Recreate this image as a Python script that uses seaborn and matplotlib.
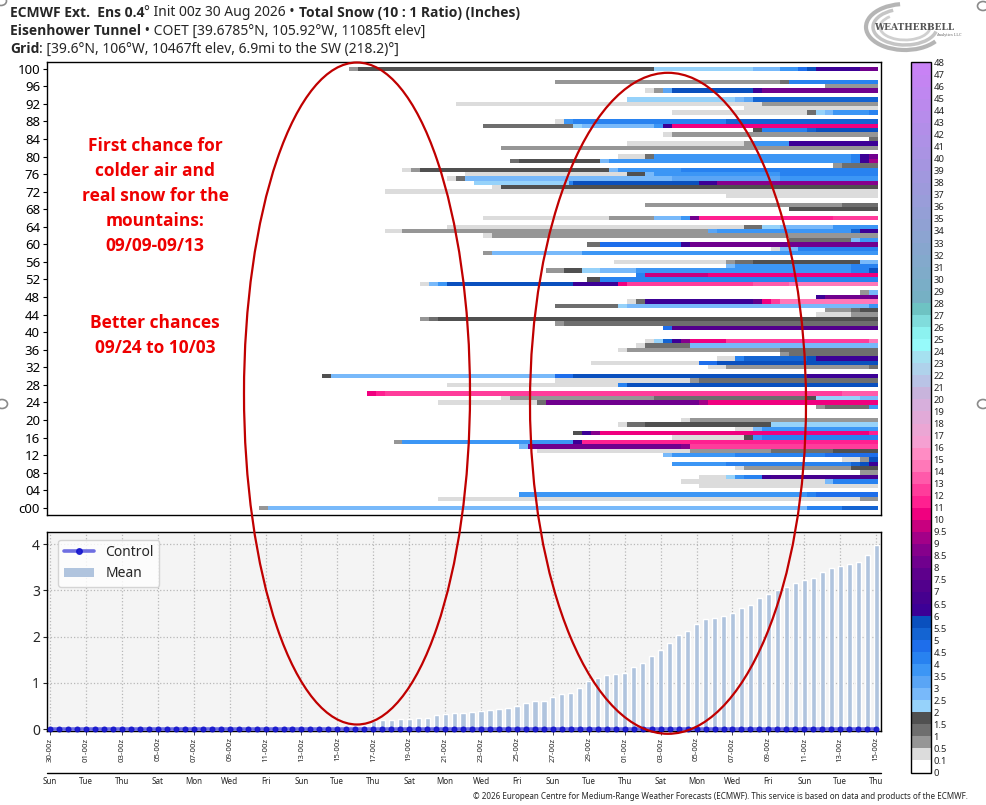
import numpy as np
import pandas as pd
import matplotlib
matplotlib.use("Agg")
import matplotlib.pyplot as plt
import seaborn as sns
from matplotlib import font_manager as fm
from matplotlib.colors import ListedColormap, BoundaryNorm, to_rgb
from matplotlib.patches import Ellipse, Arc, Circle, Patch
from matplotlib.lines import Line2D
import matplotlib.transforms as mtransforms

W, H = 986, 805

# ---------------- data ----------------
# colour-scale boundaries (inches) and their labels
snow_levels = [0, 0.1, 0.5, 1, 1.5, 2, 2.5, 3, 3.5, 4, 4.5, 5, 5.5, 6, 6.5, 7, 7.5, 8, 8.5, 9, 9.5, 10,
               11, 12, 13, 14, 15, 16, 17, 18, 19, 20, 21, 22, 23, 24, 25, 26, 27, 28, 29, 30,
               31, 32, 33, 34, 35, 36, 37, 38, 39, 40, 41, 42, 43, 44, 45, 46, 47, 48]
level_labels = ["0", "0.1", "0.5", "1", "1.5", "2", "2.5", "3", "3.5", "4", "4.5", "5", "5.5", "6",
                "6.5", "7", "7.5", "8", "8.5", "9", "9.5", "10", "11", "12", "13", "14", "15", "16",
                "17", "18", "19", "20", "21", "22", "23", "24", "25", "26", "27", "28", "29", "30",
                "31", "32", "33", "34", "35", "36", "37", "38", "39", "40", "41", "42", "43", "44",
                "45", "46", "47", "48"]

# x axis (days since 30 Aug 00z)
date_labels = ["30-00z", "01-00z", "03-00z", "05-00z", "07-00z", "09-00z", "11-00z", "13-00z",
               "15-00z", "17-00z", "19-00z", "21-00z", "23-00z", "25-00z", "27-00z", "29-00z",
               "01-00z", "03-00z", "05-00z", "07-00z", "09-00z", "11-00z", "13-00z", "15-00z"]
date_days = [0, 2, 4, 6, 8, 10, 12, 14, 16, 18, 20, 22, 24, 26, 28, 30, 32, 34, 36, 38, 40, 42, 44, 46]
day_names = ["Sun", "Tue", "Thu", "Sat", "Mon", "Wed", "Fri", "Sun", "Tue", "Thu", "Sat", "Mon",
             "Wed", "Fri", "Sun", "Tue", "Thu", "Sat", "Mon", "Wed", "Fri", "Sun", "Tue", "Thu"]

member_ticks = [100, 96, 92, 88, 84, 80, 76, 72, 68, 64, 60, 56, 52, 48, 44, 40, 36, 32, 28, 24,
                20, 16, 12, 8, 4, 0]
member_tick_labels = ["100", "96", "92", "88", "84", "80", "76", "72", "68", "64", "60", "56", "52",
                      "48", "44", "40", "36", "32", "28", "24", "20", "16", "12", "08", "04", "c00"]

# ensemble mean total snow, every 12 h from 30 Aug 00z (inches)
mean_snow = [0, 0, 0, 0, 0, 0, 0, 0, 0, 0, 0, 0, 0, 0, 0, 0,
             0, 0, 0, 0, 0, 0, 0, 0, 0.03, 0.03, 0.03, 0.03, 0.03, 0.03, 0.03, 0.03,
             0.05, 0.04, 0.04, 0.07, 0.18, 0.19, 0.19, 0.21, 0.22, 0.23, 0.25, 0.30, 0.33,
             0.35, 0.35, 0.37, 0.39, 0.41, 0.43, 0.45, 0.49, 0.57, 0.60, 0.60, 0.69,
             0.75, 0.78, 0.90, 1.03, 1.10, 1.18, 1.20, 1.22, 1.35, 1.44, 1.59, 1.71, 1.87,
             2.03, 2.12, 2.27, 2.38, 2.41, 2.44, 2.51, 2.61, 2.68, 2.83, 2.93, 3.00, 3.07,
             3.17, 3.22, 3.26, 3.39, 3.48, 3.53, 3.57, 3.61, 3.77, 3.98]
control_snow = [0.0] * 93
step_days = [0.5 * i for i in range(93)]

# plume: per member, (day when accumulation changes, accumulated inches)
m100 = [(16.8, 0.75), (17.3, 1.75), (33.74, 2.25), (39.25, 2.75), (40.8, 3.75), (41.82, 4.75), (42.32, 5.75), (42.83, 6.25), (45.28, 8.25)]
m97 = [(28.3, 0.75), (40.8, 1.25), (41.3, 4.25)]
m96 = [(43.25, 0.75)]
m95 = [(33.26, 0.3), (33.74, 0.75), (34.24, 3.25), (34.76, 5.75), (39.25, 6.25), (39.81, 8.25)]
m93 = [(32.29, 2.25), (38.23, 2.75), (38.79, 3.25), (39.25, 5.25)]
m92 = [(22.77, 0.3), (39.81, 0.75)]
m91 = [(38.79, 0.3)]
m90 = [(34.76, 0.3), (42.32, 1.25), (42.83, 2.25), (43.25, 2.75), (43.8, 3.75), (45.75, 4.25)]
m88 = [(28.3, 0.3), (28.77, 3.75), (29.29, 4.25), (37.77, 5.25)]
m87 = [(24.28, 1.25), (29.29, 2.25), (29.79, 2.75), (33.74, 3.75), (34.24, 6.25), (34.76, 10.5)]
m86 = [(39.25, 1.75), (39.81, 4.25), (42.32, 5.25), (42.83, 5.75)]
m85 = [(34.24, 0.3), (34.76, 0.75)]
m84 = [(45.75, 1.25)]
m83 = [(32.29, 0.3), (38.79, 0.75), (39.25, 3.75), (41.3, 6.25)]
m82 = [(25.28, 0.75)]
m80 = [(31.83, 0.3), (33.26, 1.25), (33.74, 3.75), (44.73, 4.25), (45.28, 6.25), (45.75, 8.25)]
m79 = [(25.78, 1.25), (26.28, 1.75), (30.77, 2.75), (31.27, 3.75), (44.73, 4.25), (45.28, 6.25), (45.75, 9.25)]
m78 = [(43.8, 0.75), (44.27, 1.25)]
m77 = [(19.82, 0.3), (20.32, 0.75), (20.82, 1.75), (31.27, 2.75), (31.83, 3.75), (35.26, 4.25)]
m76 = [(23.27, 0.3), (32.29, 1.75), (33.26, 2.75), (33.74, 3.75), (40.8, 4.25)]
m75 = [(22.33, 0.3), (22.77, 1.25), (23.27, 2.75), (34.76, 3.25), (40.8, 3.75)]
m74 = [(23.77, 2.25), (28.95, 4.25), (29.29, 5.75), (36.28, 6.25), (37.27, 8.75)]
m73 = [(24.78, 0.3), (25.28, 1.75)]
m72 = [(18.82, 0.3)]
m71 = [(37.77, 0.3)]
m69 = [(33.26, 0.75), (44.27, 1.25)]
m68 = [(41.3, 1.75)]
m66 = [(24.28, 0.3), (31.27, 0.75), (33.74, 2.75), (35.26, 3.75), (35.76, 8.25), (36.28, 11.5), (43.8, 12.5)]
m64 = [(22.33, 0.3), (38.79, 1.25), (39.81, 2.25), (40.8, 2.75), (43.8, 3.75)]
m63 = [(18.82, 0.3), (19.82, 0.75), (36.75, 3.25), (37.27, 3.75), (44.73, 5.25), (45.28, 6.25)]
m62 = [(24.28, 0.3), (24.78, 0.75)]
m61 = [(41.3, 1.25), (44.73, 2.75), (45.28, 3.75)]
m60 = [(30.0, 1.25), (30.77, 4.75), (35.26, 6.25), (35.76, 8.25)]
m59 = [(40.31, 0.3), (40.8, 2.75), (41.82, 4.25)]
m58 = [(24.28, 0.75), (24.78, 2.75), (29.79, 3.75)]
m56 = [(31.5, 0.3), (37.77, 0.75), (38.23, 1.25), (39.25, 1.75), (45.28, 2.75)]
m55 = [(37.77, 2.75), (38.23, 3.75), (44.73, 4.25)]
m54 = [(27.78, 0.75), (28.77, 1.75), (29.79, 2.25), (30.77, 2.75), (32.76, 3.75), (44.73, 4.25), (45.75, 5.75)]
m53 = [(32.76, 4.25), (33.26, 9.75), (36.75, 10.5)]
m52 = [(30.0, 1.75), (30.77, 4.25)]
m51 = [(20.82, 0.3), (21.33, 2.75), (21.83, 3.75), (22.33, 5.75), (29.29, 6.25), (31.83, 10.5), (32.29, 12.5), (39.25, 13.5), (41.3, 14.5)]
m49 = [(45.28, 0.75), (45.75, 2.75)]
m48 = [(42.83, 6.25), (43.25, 8.25)]
m47 = [(32.29, 0.3), (32.76, 1.25), (33.26, 6.25), (39.25, 7.75), (39.81, 10.5), (40.31, 12.5), (40.8, 14.5)]
m46 = [(28.3, 1.25), (31.83, 2.25), (32.29, 2.75), (45.75, 3.75)]
m45 = [(43.25, 0.75), (44.73, 1.25), (45.28, 1.75)]
m44 = [(42.83, 0.3), (44.73, 0.75)]
m43 = [(20.82, 0.75), (21.33, 1.25), (21.83, 1.75)]
m42 = [(28.3, 0.75), (28.77, 1.25)]
m41 = [(34.24, 4.75), (34.76, 7.25)]
m38 = [(33.26, 0.3), (33.74, 2.25), (34.24, 5.25), (34.76, 6.25), (35.26, 8.75), (35.76, 10.5), (37.77, 12.5), (45.75, 14.5)]
m37 = [(32.76, 0.3), (33.26, 1.25), (35.76, 2.75)]
m36 = [(31.83, 0.3), (32.29, 0.75), (40.8, 1.25)]
m35 = [(40.8, 0.75), (41.3, 1.25)]
m34 = [(37.27, 0.3), (38.23, 4.25), (38.79, 5.25), (42.32, 5.75), (42.83, 6.25)]
m33 = [(30.25, 0.3), (36.28, 4.75), (37.27, 5.75)]
m32 = [(36.75, 0.3), (37.77, 0.75), (45.75, 1.25)]
m30 = [(15.31, 1.75), (15.81, 2.75), (28.3, 4.75), (29.29, 5.75), (42.32, 6.25)]
m29 = [(28.3, 0.3), (35.76, 0.75), (36.28, 1.25)]
m28 = [(22.33, 0.3), (31.83, 4.25), (32.29, 5.75)]
m26 = [(17.82, 10.5), (18.32, 11.5), (18.82, 12.5), (44.27, 13.5)]
m25 = [(25.28, 0.3), (25.78, 0.75), (33.74, 1.25), (42.32, 1.75), (42.83, 2.25), (45.28, 2.75)]
m24 = [(21.83, 0.3), (27.28, 1.25), (27.78, 8.25), (36.28, 9.25), (36.75, 10.5)]
m23 = [(42.83, 0.75), (43.25, 1.25), (45.75, 3.75)]
m20 = [(35.26, 0.3), (35.76, 0.75)]
m19 = [(31.83, 0.3), (32.29, 1.25), (33.26, 1.75), (40.31, 2.25)]
m18 = [(38.23, 0.3), (39.25, 2.75), (39.81, 3.75)]
m17 = [(29.29, 1.75), (29.79, 6.25), (30.25, 8.75), (30.77, 10.5), (45.75, 11.5)]
m16 = [(34.76, 0.3), (38.79, 1.75), (39.25, 3.75), (39.81, 4.25)]
m15 = [(19.32, 0.75), (19.82, 3.75), (29.29, 6.25), (29.79, 11.5)]
m14 = [(26.28, 2.75), (26.78, 8.25), (35.26, 8.75), (35.76, 12.5)]
m13 = [(27.28, 0.3), (35.76, 0.75), (40.31, 1.25), (43.8, 1.75)]
m12 = [(34.24, 2.75), (34.76, 3.75), (38.23, 4.25), (43.25, 4.75)]
m11 = [(44.27, 0.3), (45.28, 0.75), (45.75, 5.75)]
m10 = [(34.76, 3.75), (37.77, 4.25), (44.73, 5.25), (45.28, 5.75), (45.75, 6.25)]
m9 = [(38.23, 0.3), (38.79, 0.75), (44.73, 1.75)]
m8 = [(45.28, 0.75)]
m7 = [(36.28, 0.3), (37.77, 2.25), (38.23, 3.75), (38.79, 4.25), (39.81, 6.25), (40.31, 6.75)]
m6 = [(35.26, 0.3), (43.25, 2.75), (43.8, 4.25)]
m5 = [(36.28, 0.3)]
m3 = [(26.28, 3.75), (42.32, 4.25), (42.83, 4.75)]
m2 = [(21.83, 0.3), (45.28, 0.75)]
m0 = [(11.82, 0.75), (12.36, 2.75), (42.32, 4.25), (44.27, 5.25)]

members = {100: m100, 97: m97, 96: m96, 95: m95, 93: m93, 92: m92, 91: m91, 90: m90, 88: m88,
           87: m87, 86: m86, 85: m85, 84: m84, 83: m83, 82: m82, 80: m80, 79: m79, 78: m78,
           77: m77, 76: m76, 75: m75, 74: m74, 73: m73, 72: m72, 71: m71, 69: m69, 68: m68,
           66: m66, 64: m64, 63: m63, 62: m62, 61: m61, 60: m60, 59: m59, 58: m58, 56: m56,
           55: m55, 54: m54, 53: m53, 52: m52, 51: m51, 49: m49, 48: m48, 47: m47, 46: m46,
           45: m45, 44: m44, 43: m43, 42: m42, 41: m41, 38: m38, 37: m37, 36: m36, 35: m35,
           34: m34, 33: m33, 32: m32, 30: m30, 29: m29, 28: m28, 26: m26, 25: m25, 24: m24,
           23: m23, 20: m20, 19: m19, 18: m18, 17: m17, 16: m16, 15: m15, 14: m14, 13: m13,
           12: m12, 11: m11, 10: m10, 9: m9, 8: m8, 7: m7, 6: m6, 5: m5, 3: m3, 2: m2, 0: m0}

# ---------------- colours ----------------
base_colors = ["#ffffff", "#dcdcdc", "#969696", "#6e6e6e", "#505050",
               "#96d2fa", "#78b9fa", "#5aa5f5", "#3c96f5", "#2882f0", "#1e6eeb", "#1464d2", "#0a50be",
               "#3c0096", "#46008f", "#52008c", "#5e008c", "#70008e", "#86008c", "#a30088", "#c8007f",
               "#f0007f", "#ff2090", "#ff3c9b", "#ff5aaa", "#ff78b8", "#ff8cc4", "#f5a0d2", "#eba6d4",
               "#e1aad8", "#d7afdc", "#c8b4dc", "#b9c3e6", "#afd2eb", "#a5e1f0", "#96fafa", "#8cf2f0",
               "#80dcdc", "#6ec3c3"]
c_lo, c_hi = np.array(to_rgb("#76b0c4")), np.array(to_rgb("#c882f5"))
grad = [tuple(c_lo + (c_hi - c_lo) * f) for f in np.linspace(0, 1, 20)]
cmap = ListedColormap(base_colors + grad)
norm = BoundaryNorm(snow_levels, cmap.N)

# ---------------- fonts ----------------
def _w(f):
    w = f.weight
    if isinstance(w, str):
        w = fm.weight_dict.get(w, 400)
    return w

BOLD_FAMILY = "DejaVu Sans"
for fam in ["Noto Sans", "Open Sans", "Lato", "Roboto", "Liberation Sans"]:
    if any(f.name == fam and _w(f) >= 600 and f.style == "normal" for f in fm.fontManager.ttflist):
        BOLD_FAMILY = fam
        break

# ---------------- figure ----------------
sns.set_style("white")
plt.rcParams["font.family"] = ["Noto Sans", "DejaVu Sans"]

fig = plt.figure(figsize=(W / 100, H / 100), dpi=100)
fig.patch.set_facecolor("white")

XMIN, XMAX = -0.17, 46.27

# ---- plume panel ----
ax1 = fig.add_axes([47 / W, 1 - 515 / H, 834 / W, (515 - 62.3) / H])
ncol = 185
col_days = np.arange(ncol) * 0.25
grid = np.zeros((101, ncol))
for m, changes in members.items():
    r = 100 - m
    for day, val in changes:
        grid[r, col_days >= day - 0.125] = val
sns.heatmap(pd.DataFrame(grid), ax=ax1, cmap=cmap, norm=norm, cbar=False,
            xticklabels=False, yticklabels=False)
ax1.set_xlim(XMIN * 4 + 0.5, XMAX * 4 + 0.5)
ax1.set_ylim(102.14, -0.96)
ax1.set_xticks([])
ax1.set_yticks([100 - m + 0.5 for m in member_ticks])
ax1.set_yticklabels(member_tick_labels, fontsize=9.5)
ax1.tick_params(axis="y", left=True, length=3, width=0.8, pad=2, colors="black")
for s in ax1.spines.values():
    s.set_visible(True)
    s.set_color("black")
    s.set_linewidth(1.0)

# ---- colorbar ----
cax = fig.add_axes([910.5 / W, 1 - 772.5 / H, 20 / W, 710 / H])
sm = plt.cm.ScalarMappable(norm=norm, cmap=cmap)
cb = fig.colorbar(sm, cax=cax, ticks=snow_levels, spacing="uniform")
cb.ax.set_yticklabels(level_labels)
cb.ax.tick_params(length=0, pad=2, labelsize=6.8)
cb.outline.set_linewidth(1.0)
cb.outline.set_edgecolor("black")

# ---- mean / control panel ----
ax2 = fig.add_axes([47 / W, 1 - 730.5 / H, 834 / W, (730.5 - 531.7) / H])
ax2.set_facecolor("#f4f4f4")
ax2.bar(step_days, mean_snow, width=0.29, color="#b0c4de", zorder=2, label="Mean")
sns.lineplot(x=step_days, y=control_snow, ax=ax2, color="#5555dd", linewidth=2.6, alpha=0.85,
             marker="o", markersize=3.6, markerfacecolor="#1111cc", markeredgecolor="#1111cc",
             zorder=4, label="Control", clip_on=False)
ax2.set_xlim(XMIN, XMAX)
ax2.set_ylim(-0.03, 4.27)
ax2.set_yticks([0, 1, 2, 3, 4])
ax2.set_yticklabels(["0", "1", "2", "3", "4"], fontsize=10)
ax2.set_xticks(date_days)
ax2.set_xticklabels(date_labels, rotation=90, fontsize=5.6)
ax2.tick_params(axis="x", bottom=True, length=3, width=0.6, pad=2)
ax2.tick_params(axis="y", left=True, length=3, width=0.8, pad=2)
ax2.grid(True, linestyle=":", color="#b8b8b8", linewidth=0.9)
ax2.set_axisbelow(True)
for s in ax2.spines.values():
    s.set_visible(True)
    s.set_color("black")
    s.set_linewidth(1.0)
handles = [Line2D([0], [0], color="#5555dd", lw=2.6, alpha=0.85, marker="o", markersize=4,
                  markerfacecolor="#1111cc", markeredgecolor="#1111cc"),
           Patch(facecolor="#b0c4de", edgecolor="none")]
ax2.legend(handles, ["Control", "Mean"], loc="upper left", fontsize=10, frameon=True,
           facecolor="white", edgecolor="#cccccc", framealpha=0.8, borderpad=0.4,
           handlelength=2.2, labelspacing=0.45, bbox_to_anchor=(0.005, 0.995))

# day-name row under the time axis
blend = mtransforms.blended_transform_factory(ax2.transData, ax2.transAxes)
ax2.plot([0, 1], [-0.213, -0.213], transform=ax2.transAxes, color="black", lw=1.0, clip_on=False)
for d, nm in zip(date_days, day_names):
    ax2.text(d, -0.255, nm, transform=blend, ha="center", va="center", fontsize=5.8)

# ---------------- header text ----------------
def fam_for(wt):
    return [BOLD_FAMILY, "DejaVu Sans"] if wt == "bold" else ["Noto Sans", "DejaVu Sans"]

def rich_line(x_px, y_px, parts, size):
    r = fig.canvas.get_renderer()
    x = x_px
    for txt, wt in parts:
        fam = fam_for(wt)
        fig.text(x / W, 1 - y_px / H, txt, fontsize=size, fontweight=wt, family=fam,
                 ha="left", va="center")
        a = fig.text(0, 0, "x" + txt + "x", fontsize=size, fontweight=wt, family=fam)
        b = fig.text(0, 0, "xx", fontsize=size, fontweight=wt, family=fam)
        w = a.get_window_extent(renderer=r).width - b.get_window_extent(renderer=r).width
        a.remove()
        b.remove()
        x += w

fig.canvas.draw()
rich_line(10, 13, [("ECMWF Ext.  Ens 0.4", "bold"), ("° Init 00z 30 Aug 2026 • ", "normal"),
                   ("Total Snow (10 : 1 Ratio) (Inches)", "bold")], 10)
rich_line(10, 31, [("Eisenhower Tunnel", "bold"),
                   (" • COET [39.6785°N, 105.92°W, 11085ft elev]", "normal")], 10)
rich_line(10, 49, [("Grid", "bold"),
                   (": [39.6°N, 106°W, 10467ft elev, 6.9mi to the SW (218.2)°]", "normal")], 10)

fig.text(968 / W, 1 - 796 / H,
         "© 2026 European Centre for Medium-Range Weather Forecasts (ECMWF). "
         "This service is based on data and products of the ECMWF.",
         ha="right", va="center", fontsize=5.8)

# ---------------- logo ----------------
for (wd, ht, t1, t2, lw, col) in [(78, 46, 100, 330, 3.0, "#b5b5b5"), (64, 36, 120, 350, 2.5, "#c5c5c5"),
                                   (50, 26, 140, 370, 2.0, "#d0d0d0")]:
    fig.add_artist(Arc((905 / W, 1 - 27 / H), wd / W, ht / H, theta1=t1, theta2=t2,
                       transform=fig.transFigure, color=col, lw=lw))
fig.text(874 / W, 1 - 27 / H, "WEATHERBELL", fontsize=6.5, family=["DejaVu Serif"],
         color="#555555", fontweight="bold", ha="left", va="center")
fig.text(962 / W, 1 - 35 / H, "Analytics LLC", fontsize=2.6, family=["DejaVu Serif"],
         color="#666666", ha="right", va="center")

# ---------------- annotations ----------------
fig.add_artist(Ellipse((357 / W, 1 - 393.5 / H), 226 / W, 662 / H, transform=fig.transFigure,
                       fill=False, edgecolor="#c00000", lw=1.6))
fig.add_artist(Ellipse((668 / W, 1 - 403.3 / H), 276 / W, 661 / H, transform=fig.transFigure,
                       fill=False, edgecolor="#c00000", lw=1.6))
for txt, y in [("First chance for", 146), ("colder air and", 171), ("real snow for the", 196),
               ("mountains:", 221), ("09/09-09/13", 246), ("Better chances", 323),
               ("09/24 to 10/03", 348)]:
    fig.text(155 / W, 1 - y / H, txt, color="#ee0000", fontsize=12.5, fontweight="bold",
             family=fam_for("bold"), ha="center", va="center")

# window-handle circles at the edges
for (cx, cy) in [(1, 1), (983, 6), (2, 404), (983, 404)]:
    fig.add_artist(Circle((cx / W, 1 - cy / H), 5.5 / W, transform=fig.transFigure,
                          facecolor="white", edgecolor="#8a8a8a", lw=1.2))

fig.savefig("out.png", dpi=100)
